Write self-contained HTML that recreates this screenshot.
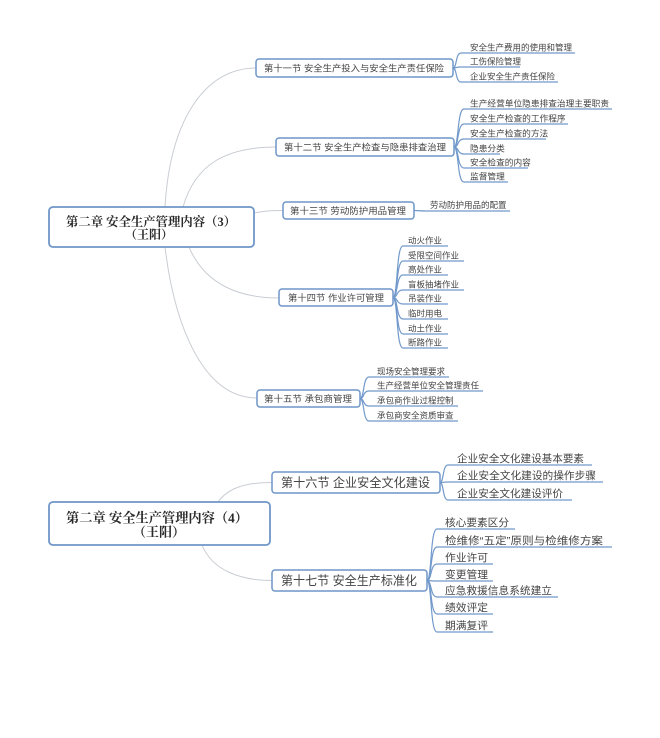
<!DOCTYPE html>
<html>
<head>
<meta charset="utf-8">
<style>
html,body{margin:0;padding:0;background:#fff;}
svg{display:block;}
.box{fill:#fff;stroke:#6f96c8;stroke-width:1.5;}
.mbox{fill:#fff;stroke:#6f96c8;stroke-width:1.8;}
.con{fill:none;stroke:#c9cdd3;stroke-width:1;}
.leaf{fill:none;stroke:#7299cb;stroke-width:1.2;}
.t{font-family:"Liberation Sans","Noto Sans CJK SC",sans-serif;fill:#444;}
.m{font-family:"Liberation Serif","Noto Serif CJK SC",serif;font-weight:bold;fill:#2a2a2a;}
</style>
</head>
<body>
<svg width="660" height="738" viewBox="0 0 660 738" xmlns="http://www.w3.org/2000/svg" xml:space="preserve">
<!-- main connectors top -->
<path class="con" d="M165,207 C170,120 205,68 256,68"/>
<path class="con" d="M183,207 C195,165 225,147 276,147"/>
<path class="con" d="M254,213 C265,211 270,210.5 283,210.5"/>
<path class="con" d="M189,247 C205,285 240,298 279,298"/>
<path class="con" d="M165,247 C175,330 205,398 257,398"/>
<!-- main connectors bottom -->
<path class="con" d="M218,502 C228,488 245,482.5 272,482.5"/>
<path class="con" d="M202,545 C212,570 240,580.5 272,580.5"/>

<!-- main box 3 -->
<rect class="mbox" x="49" y="207" width="205" height="40" rx="4"/>
<text class="m" x="151" y="226" font-size="12.5" text-anchor="middle" textLength="170" lengthAdjust="spacingAndGlyphs">第二章  安全生产管理内容（3）</text>
<text class="m" x="149" y="238.5" font-size="12" text-anchor="middle">（王阳）</text>

<!-- S11 -->
<rect class="box" x="256" y="59" width="197" height="18" rx="3"/>
<text class="t" x="264" y="71.5" font-size="9" textLength="180" lengthAdjust="spacingAndGlyphs">第十一节  安全生产投入与安全生产责任保险</text>
<path class="leaf" d="M453,68 C457,68 455.4,53 461,53 L575,53"/>
<path class="leaf" d="M453,68 C457,68 455.4,67 461,67 L520,67"/>
<path class="leaf" d="M453,68 C457,68 455.4,82 461,82 L558,82"/>
<text class="t" x="470" y="50.5" font-size="8.5">安全生产费用的使用和管理</text>
<text class="t" x="470" y="64.5" font-size="8.5">工伤保险管理</text>
<text class="t" x="470" y="79.5" font-size="8.5">企业安全生产责任保险</text>

<!-- S12 -->
<rect class="box" x="276" y="138" width="178" height="18" rx="3"/>
<text class="t" x="284" y="150.5" font-size="9" textLength="162" lengthAdjust="spacingAndGlyphs">第十二节  安全生产检查与隐患排查治理</text>
<path class="leaf" d="M454,147 C459,147 457,109 464,109 L612,109"/>
<path class="leaf" d="M454,147 C459,147 457,124 464,124 L568,124"/>
<path class="leaf" d="M454,147 C459,147 457,139 464,139 L546,139"/>
<path class="leaf" d="M454,147 C459,147 457,154 464,154 L500,154"/>
<path class="leaf" d="M454,147 C459,147 457,168 464,168 L528,168"/>
<path class="leaf" d="M454,147 C459,147 457,182 464,182 L508,182"/>
<text class="t" x="470" y="106.5" font-size="8.7">生产经营单位隐患排查治理主要职责</text>
<text class="t" x="470" y="121.5" font-size="8.7">安全生产检查的工作程序</text>
<text class="t" x="470" y="136.5" font-size="8.7">安全生产检查的方法</text>
<text class="t" x="470" y="151.5" font-size="8.7">隐患分类</text>
<text class="t" x="470" y="165.5" font-size="8.7">安全检查的内容</text>
<text class="t" x="470" y="179.5" font-size="8.7">监督管理</text>

<!-- S13 -->
<rect class="box" x="283" y="202" width="131" height="17" rx="3"/>
<text class="t" x="290" y="214" font-size="9" textLength="116" lengthAdjust="spacingAndGlyphs">第十三节  劳动防护用品管理</text>
<path class="leaf" d="M414,210.5 C420,210.5 420,211 426,211 L510,211"/>
<text class="t" x="430" y="208" font-size="8.5">劳动防护用品的配置</text>

<!-- S14 -->
<rect class="box" x="279" y="289" width="114" height="17" rx="3"/>
<text class="t" x="288" y="301" font-size="9" textLength="96" lengthAdjust="spacingAndGlyphs">第十四节  作业许可管理</text>
<path class="leaf" d="M393,297.5 C398,297.5 396,246 403,246 L448,246"/>
<path class="leaf" d="M393,297.5 C398,297.5 396,261 403,261 L464,261"/>
<path class="leaf" d="M393,297.5 C398,297.5 396,275 403,275 L448,275"/>
<path class="leaf" d="M393,297.5 C398,297.5 396,290 403,290 L464,290"/>
<path class="leaf" d="M393,297.5 C398,297.5 396,304 403,304 L448,304"/>
<path class="leaf" d="M393,297.5 C398,297.5 396,319 403,319 L448,319"/>
<path class="leaf" d="M393,297.5 C398,297.5 396,334 403,334 L448,334"/>
<path class="leaf" d="M393,297.5 C398,297.5 396,348 403,348 L448,348"/>
<text class="t" x="408" y="243.5" font-size="8.5">动火作业</text>
<text class="t" x="408" y="258.5" font-size="8.5">受限空间作业</text>
<text class="t" x="408" y="272.5" font-size="8.5">高处作业</text>
<text class="t" x="408" y="287.5" font-size="8.5">盲板抽堵作业</text>
<text class="t" x="408" y="301.5" font-size="8.5">吊装作业</text>
<text class="t" x="408" y="316.5" font-size="8.5">临时用电</text>
<text class="t" x="408" y="331.5" font-size="8.5">动土作业</text>
<text class="t" x="408" y="345.5" font-size="8.5">断路作业</text>

<!-- S15 -->
<rect class="box" x="257" y="390" width="103" height="17" rx="3"/>
<text class="t" x="264" y="402" font-size="9" textLength="88" lengthAdjust="spacingAndGlyphs">第十五节  承包商管理</text>
<path class="leaf" d="M360,398.5 C364.5,398.5 362.7,377 369,377 L449,377"/>
<path class="leaf" d="M360,398.5 C364.5,398.5 362.7,391 369,391 L483,391"/>
<path class="leaf" d="M360,398.5 C364.5,398.5 362.7,406 369,406 L458,406"/>
<path class="leaf" d="M360,398.5 C364.5,398.5 362.7,421 369,421 L458,421"/>
<text class="t" x="377" y="374.5" font-size="8.5">现场安全管理要求</text>
<text class="t" x="377" y="388.5" font-size="8.5">生产经营单位安全管理责任</text>
<text class="t" x="377" y="403.5" font-size="8.5">承包商作业过程控制</text>
<text class="t" x="377" y="418.5" font-size="8.5">承包商安全资质审查</text>

<!-- main box 4 -->
<rect class="mbox" x="49" y="502" width="221" height="43" rx="4"/>
<text class="m" x="157" y="522.5" font-size="13.5" text-anchor="middle" textLength="182" lengthAdjust="spacingAndGlyphs">第二章  安全生产管理内容（4）</text>
<text class="m" x="159" y="536.5" font-size="13" text-anchor="middle">（王阳）</text>

<!-- S16 -->
<rect class="box" x="272" y="472" width="168" height="21" rx="3"/>
<text class="t" x="281" y="487" font-size="12.5" textLength="149" lengthAdjust="spacingAndGlyphs">第十六节  企业安全文化建设</text>
<path class="leaf" d="M440,482.5 C444,482.5 442.4,465 448,465 L592,465"/>
<path class="leaf" d="M440,482.5 C444,482.5 442.4,482 448,482 L603,482"/>
<path class="leaf" d="M440,482.5 C444,482.5 442.4,500 448,500 L572,500"/>
<text class="t" x="457" y="462" font-size="10.5" textLength="127" lengthAdjust="spacingAndGlyphs">企业安全文化建设基本要素</text>
<text class="t" x="457" y="479" font-size="10.5" textLength="139" lengthAdjust="spacingAndGlyphs">企业安全文化建设的操作步骤</text>
<text class="t" x="457" y="497" font-size="10.5" textLength="106" lengthAdjust="spacingAndGlyphs">企业安全文化建设评价</text>

<!-- S17 -->
<rect class="box" x="272" y="570" width="155" height="21" rx="3"/>
<text class="t" x="281" y="585" font-size="12.5" textLength="136" lengthAdjust="spacingAndGlyphs">第十七节  安全生产标准化</text>
<path class="leaf" d="M427,580.5 C432,580.5 430,529 437,529 L515,529"/>
<path class="leaf" d="M427,580.5 C432,580.5 430,547 437,547 L612,547"/>
<path class="leaf" d="M427,580.5 C432,580.5 430,564 437,564 L493,564"/>
<path class="leaf" d="M427,580.5 C432,580.5 430,581 437,581 L493,581"/>
<path class="leaf" d="M427,580.5 C432,580.5 430,597 437,597 L558,597"/>
<path class="leaf" d="M427,580.5 C432,580.5 430,614 437,614 L493,614"/>
<path class="leaf" d="M427,580.5 C432,580.5 430,632 437,632 L493,632"/>
<text class="t" x="445" y="526" font-size="10.5" textLength="64" lengthAdjust="spacingAndGlyphs">核心要素区分</text>
<text class="t" x="445" y="544" font-size="10.5" textLength="158" lengthAdjust="spacingAndGlyphs">检维修“五定”原则与检维修方案</text>
<text class="t" x="445" y="561" font-size="10.5" textLength="43" lengthAdjust="spacingAndGlyphs">作业许可</text>
<text class="t" x="445" y="578" font-size="10.5" textLength="43" lengthAdjust="spacingAndGlyphs">变更管理</text>
<text class="t" x="445" y="594" font-size="10.5" textLength="107" lengthAdjust="spacingAndGlyphs">应急救援信息系统建立</text>
<text class="t" x="445" y="611" font-size="10.5" textLength="43" lengthAdjust="spacingAndGlyphs">绩效评定</text>
<text class="t" x="445" y="629" font-size="10.5" textLength="43" lengthAdjust="spacingAndGlyphs">期满复评</text>
</svg>
</body>
</html>
